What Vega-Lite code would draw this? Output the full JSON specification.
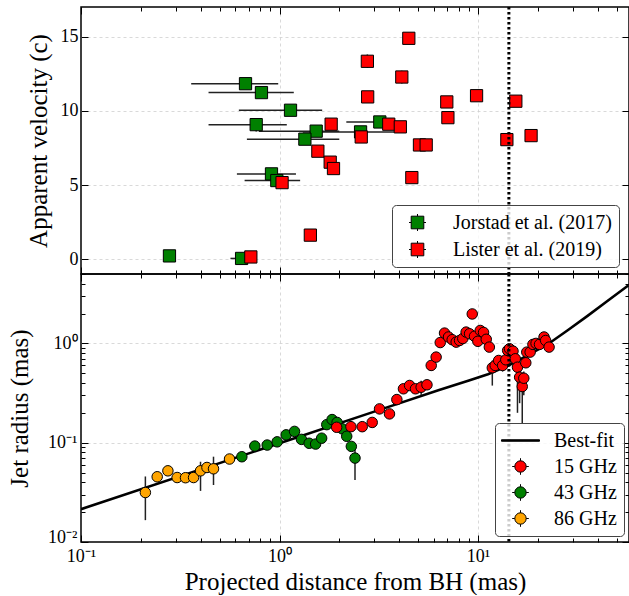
{
  "$schema": "https://vega.github.io/schema/vega-lite/v6.json",
  "background": "white",
  "padding": {"left": 6, "top": 4, "right": 0, "bottom": 0},
  "config": {
    "font": "Liberation Serif",
    "view": {"stroke": "black", "strokeWidth": 1.5},
    "axis": {
      "domain": false,
      "tickColor": "black",
      "tickWidth": 1,
      "labelFont": "Liberation Serif",
      "labelFontSize": 18,
      "labelColor": "black",
      "labelFlush": false,
      "labelOverlap": false,
      "titleFont": "Liberation Serif",
      "titleFontSize": 25,
      "titleFontWeight": "normal",
      "titleColor": "black",
      "gridColor": "#cfcfcf",
      "gridDash": [3, 3],
      "gridWidth": 0.8
    },
    "legend": {
      "labelFont": "Liberation Serif",
      "labelFontSize": 20,
      "labelColor": "black",
      "strokeColor": "#444444",
      "fillColor": "rgba(255,255,255,0.8)",
      "cornerRadius": 4,
      "padding": 7,
      "symbolSize": 400,
      "symbolStrokeColor": "black",
      "symbolStrokeWidth": 1,
      "symbolOpacity": 1,
      "symbolOffset": 8
    }
  },
  "datasets": {
    "vel": [
      {"series": "Jorstad et al. (2017)", "x": 0.674, "xlo": 0.359, "xhi": 0.985, "v": 11.83, "vlo": 11.6, "vhi": 12.06},
      {"series": "Jorstad et al. (2017)", "x": 0.811, "xlo": 0.439, "xhi": 1.18, "v": 11.23, "vlo": 11.23, "vhi": 11.23},
      {"series": "Jorstad et al. (2017)", "x": 1.136, "xlo": 0.624, "xhi": 1.64, "v": 10.04, "vlo": 10.04, "vhi": 10.04},
      {"series": "Jorstad et al. (2017)", "x": 0.763, "xlo": 0.439, "xhi": 1.088, "v": 9.07, "vlo": 8.6, "vhi": 9.5},
      {"series": "Jorstad et al. (2017)", "x": 1.53, "xlo": 0.787, "xhi": 2.0, "v": 8.63, "vlo": 8.63, "vhi": 8.63},
      {"series": "Jorstad et al. (2017)", "x": 1.342, "xlo": 0.685, "xhi": 2.0, "v": 8.09, "vlo": 8.09, "vhi": 8.09},
      {"series": "Jorstad et al. (2017)", "x": 2.56, "xlo": 1.31, "xhi": 3.8, "v": 8.58, "vlo": 8.58, "vhi": 8.58},
      {"series": "Jorstad et al. (2017)", "x": 3.2, "xlo": 2.17, "xhi": 3.8, "v": 9.25, "vlo": 9.25, "vhi": 9.25},
      {"series": "Jorstad et al. (2017)", "x": 0.911, "xlo": 0.61, "xhi": 1.21, "v": 5.75, "vlo": 5.75, "vhi": 5.75},
      {"series": "Jorstad et al. (2017)", "x": 0.969, "xlo": 0.667, "xhi": 1.27, "v": 5.3, "vlo": 5.3, "vhi": 5.3},
      {"series": "Jorstad et al. (2017)", "x": 0.279, "xlo": 0.27, "xhi": 0.29, "v": 0.22, "vlo": 0.22, "vhi": 0.22},
      {"series": "Jorstad et al. (2017)", "x": 0.644, "xlo": 0.566, "xhi": 0.72, "v": 0.05, "vlo": 0.05, "vhi": 0.05},
      {"series": "Lister et al. (2019)", "x": 4.48, "xlo": 4.48, "xhi": 4.48, "v": 14.89, "vlo": 14.7, "vhi": 15.1},
      {"series": "Lister et al. (2019)", "x": 2.77, "xlo": 2.77, "xhi": 2.77, "v": 13.34, "vlo": 12.9, "vhi": 13.8},
      {"series": "Lister et al. (2019)", "x": 4.13, "xlo": 4.13, "xhi": 4.13, "v": 12.28, "vlo": 11.85, "vhi": 12.7},
      {"series": "Lister et al. (2019)", "x": 2.78, "xlo": 2.78, "xhi": 2.78, "v": 10.94, "vlo": 10.75, "vhi": 11.15},
      {"series": "Lister et al. (2019)", "x": 1.82, "xlo": 1.82, "xhi": 1.82, "v": 9.1, "vlo": 8.9, "vhi": 9.3},
      {"series": "Lister et al. (2019)", "x": 3.55, "xlo": 3.55, "xhi": 3.55, "v": 9.1, "vlo": 8.9, "vhi": 9.3},
      {"series": "Lister et al. (2019)", "x": 4.06, "xlo": 4.06, "xhi": 4.06, "v": 8.92, "vlo": 8.7, "vhi": 9.15},
      {"series": "Lister et al. (2019)", "x": 2.58, "xlo": 2.58, "xhi": 2.58, "v": 8.24, "vlo": 8.05, "vhi": 8.45},
      {"series": "Lister et al. (2019)", "x": 1.56, "xlo": 1.56, "xhi": 1.56, "v": 7.28, "vlo": 7.1, "vhi": 7.45},
      {"series": "Lister et al. (2019)", "x": 1.8, "xlo": 1.8, "xhi": 1.8, "v": 6.54, "vlo": 6.35, "vhi": 6.7},
      {"series": "Lister et al. (2019)", "x": 1.87, "xlo": 1.87, "xhi": 1.87, "v": 6.11, "vlo": 5.95, "vhi": 6.3},
      {"series": "Lister et al. (2019)", "x": 1.03, "xlo": 1.03, "xhi": 1.03, "v": 5.16, "vlo": 5.0, "vhi": 5.35},
      {"series": "Lister et al. (2019)", "x": 4.64, "xlo": 4.64, "xhi": 4.64, "v": 5.5, "vlo": 5.3, "vhi": 5.7},
      {"series": "Lister et al. (2019)", "x": 5.07, "xlo": 5.07, "xhi": 5.07, "v": 7.7, "vlo": 7.5, "vhi": 7.9},
      {"series": "Lister et al. (2019)", "x": 5.48, "xlo": 5.48, "xhi": 5.48, "v": 7.7, "vlo": 7.5, "vhi": 7.9},
      {"series": "Lister et al. (2019)", "x": 1.43, "xlo": 1.43, "xhi": 1.43, "v": 1.62, "vlo": 1.45, "vhi": 1.8},
      {"series": "Lister et al. (2019)", "x": 0.717, "xlo": 0.717, "xhi": 0.717, "v": 0.15, "vlo": 0.0, "vhi": 0.3},
      {"series": "Lister et al. (2019)", "x": 6.96, "xlo": 6.96, "xhi": 6.96, "v": 10.6, "vlo": 10.4, "vhi": 10.8},
      {"series": "Lister et al. (2019)", "x": 9.83, "xlo": 9.83, "xhi": 9.83, "v": 11.02, "vlo": 10.85, "vhi": 11.2},
      {"series": "Lister et al. (2019)", "x": 15.5, "xlo": 15.5, "xhi": 15.5, "v": 10.65, "vlo": 10.45, "vhi": 10.85},
      {"series": "Lister et al. (2019)", "x": 7.05, "xlo": 7.05, "xhi": 7.05, "v": 9.54, "vlo": 9.35, "vhi": 9.75},
      {"series": "Lister et al. (2019)", "x": 13.97, "xlo": 13.97, "xhi": 13.97, "v": 8.06, "vlo": 7.85, "vhi": 8.25},
      {"series": "Lister et al. (2019)", "x": 18.5, "xlo": 18.5, "xhi": 18.5, "v": 8.33, "vlo": 8.0, "vhi": 8.65}
    ],
    "rad": [
      {"series": "86 GHz", "x": 0.211, "y": 0.0315, "ylo": 0.0166, "yhi": 0.0457},
      {"series": "86 GHz", "x": 0.242, "y": 0.0454, "ylo": 0.0454, "yhi": 0.0454},
      {"series": "86 GHz", "x": 0.274, "y": 0.0521, "ylo": 0.0521, "yhi": 0.0521},
      {"series": "86 GHz", "x": 0.305, "y": 0.0446, "ylo": 0.0446, "yhi": 0.0446},
      {"series": "86 GHz", "x": 0.336, "y": 0.0444, "ylo": 0.04, "yhi": 0.049},
      {"series": "86 GHz", "x": 0.369, "y": 0.0446, "ylo": 0.0446, "yhi": 0.0446},
      {"series": "86 GHz", "x": 0.4, "y": 0.0521, "ylo": 0.0327, "yhi": 0.0643},
      {"series": "86 GHz", "x": 0.431, "y": 0.0563, "ylo": 0.0563, "yhi": 0.0563},
      {"series": "86 GHz", "x": 0.465, "y": 0.0546, "ylo": 0.0375, "yhi": 0.0723},
      {"series": "86 GHz", "x": 0.56, "y": 0.0685, "ylo": 0.0685, "yhi": 0.0685},
      {"series": "43 GHz", "x": 0.646, "y": 0.0722, "ylo": 0.0722, "yhi": 0.0722},
      {"series": "43 GHz", "x": 0.751, "y": 0.0925, "ylo": 0.0925, "yhi": 0.0925},
      {"series": "43 GHz", "x": 0.867, "y": 0.0947, "ylo": 0.0947, "yhi": 0.0947},
      {"series": "43 GHz", "x": 0.973, "y": 0.102, "ylo": 0.102, "yhi": 0.102},
      {"series": "43 GHz", "x": 1.08, "y": 0.12, "ylo": 0.12, "yhi": 0.12},
      {"series": "43 GHz", "x": 1.19, "y": 0.13, "ylo": 0.13, "yhi": 0.13},
      {"series": "43 GHz", "x": 1.29, "y": 0.108, "ylo": 0.108, "yhi": 0.108},
      {"series": "43 GHz", "x": 1.41, "y": 0.0987, "ylo": 0.0987, "yhi": 0.0987},
      {"series": "43 GHz", "x": 1.52, "y": 0.0969, "ylo": 0.0969, "yhi": 0.0969},
      {"series": "43 GHz", "x": 1.63, "y": 0.111, "ylo": 0.111, "yhi": 0.111},
      {"series": "43 GHz", "x": 1.73, "y": 0.152, "ylo": 0.152, "yhi": 0.152},
      {"series": "43 GHz", "x": 1.84, "y": 0.171, "ylo": 0.171, "yhi": 0.171},
      {"series": "43 GHz", "x": 1.95, "y": 0.16, "ylo": 0.16, "yhi": 0.16},
      {"series": "43 GHz", "x": 2.07, "y": 0.138, "ylo": 0.138, "yhi": 0.138},
      {"series": "43 GHz", "x": 2.18, "y": 0.116, "ylo": 0.116, "yhi": 0.116},
      {"series": "43 GHz", "x": 2.3, "y": 0.0918, "ylo": 0.0918, "yhi": 0.0918},
      {"series": "43 GHz", "x": 2.4, "y": 0.07, "ylo": 0.042, "yhi": 0.085},
      {"series": "15 GHz", "x": 1.94, "y": 0.143, "ylo": 0.143, "yhi": 0.143},
      {"series": "15 GHz", "x": 2.29, "y": 0.145, "ylo": 0.145, "yhi": 0.145},
      {"series": "15 GHz", "x": 2.61, "y": 0.145, "ylo": 0.145, "yhi": 0.145},
      {"series": "15 GHz", "x": 2.93, "y": 0.16, "ylo": 0.16, "yhi": 0.16},
      {"series": "15 GHz", "x": 3.19, "y": 0.219, "ylo": 0.2, "yhi": 0.24},
      {"series": "15 GHz", "x": 3.58, "y": 0.195, "ylo": 0.195, "yhi": 0.195},
      {"series": "15 GHz", "x": 3.9, "y": 0.272, "ylo": 0.272, "yhi": 0.272},
      {"series": "15 GHz", "x": 4.21, "y": 0.349, "ylo": 0.349, "yhi": 0.349},
      {"series": "15 GHz", "x": 4.52, "y": 0.377, "ylo": 0.377, "yhi": 0.377},
      {"series": "15 GHz", "x": 4.84, "y": 0.349, "ylo": 0.349, "yhi": 0.349},
      {"series": "15 GHz", "x": 5.17, "y": 0.362, "ylo": 0.3, "yhi": 0.42},
      {"series": "15 GHz", "x": 5.53, "y": 0.383, "ylo": 0.383, "yhi": 0.383},
      {"series": "15 GHz", "x": 5.81, "y": 0.6, "ylo": 0.53, "yhi": 0.67},
      {"series": "15 GHz", "x": 6.15, "y": 0.728, "ylo": 0.728, "yhi": 0.728},
      {"series": "15 GHz", "x": 6.45, "y": 1.02, "ylo": 1.02, "yhi": 1.02},
      {"series": "15 GHz", "x": 6.78, "y": 1.27, "ylo": 1.27, "yhi": 1.27},
      {"series": "15 GHz", "x": 7.1, "y": 1.16, "ylo": 1.16, "yhi": 1.16},
      {"series": "15 GHz", "x": 7.41, "y": 1.09, "ylo": 1.09, "yhi": 1.09},
      {"series": "15 GHz", "x": 7.76, "y": 1.03, "ylo": 1.03, "yhi": 1.03},
      {"series": "15 GHz", "x": 8.07, "y": 1.07, "ylo": 1.07, "yhi": 1.07},
      {"series": "15 GHz", "x": 8.38, "y": 1.12, "ylo": 1.12, "yhi": 1.12},
      {"series": "15 GHz", "x": 8.71, "y": 1.3, "ylo": 1.3, "yhi": 1.3},
      {"series": "15 GHz", "x": 9.06, "y": 1.25, "ylo": 1.25, "yhi": 1.25},
      {"series": "15 GHz", "x": 9.35, "y": 1.98, "ylo": 1.98, "yhi": 1.98},
      {"series": "15 GHz", "x": 9.6, "y": 1.18, "ylo": 1.18, "yhi": 1.18},
      {"series": "15 GHz", "x": 9.98, "y": 1.05, "ylo": 0.93, "yhi": 1.15},
      {"series": "15 GHz", "x": 10.26, "y": 1.35, "ylo": 1.35, "yhi": 1.35},
      {"series": "15 GHz", "x": 10.66, "y": 1.29, "ylo": 1.29, "yhi": 1.29},
      {"series": "15 GHz", "x": 11.0, "y": 1.1, "ylo": 1.1, "yhi": 1.1},
      {"series": "15 GHz", "x": 11.4, "y": 0.918, "ylo": 0.82, "yhi": 1.0},
      {"series": "15 GHz", "x": 11.8, "y": 0.568, "ylo": 0.376, "yhi": 0.67},
      {"series": "15 GHz", "x": 12.2, "y": 0.6, "ylo": 0.55, "yhi": 0.65},
      {"series": "15 GHz", "x": 12.7, "y": 0.673, "ylo": 0.6, "yhi": 0.74},
      {"series": "15 GHz", "x": 13.3, "y": 0.6, "ylo": 0.52, "yhi": 0.68},
      {"series": "15 GHz", "x": 13.8, "y": 0.684, "ylo": 0.684, "yhi": 0.684},
      {"series": "15 GHz", "x": 14.1, "y": 0.85, "ylo": 0.85, "yhi": 0.85},
      {"series": "15 GHz", "x": 14.4, "y": 0.884, "ylo": 0.884, "yhi": 0.884},
      {"series": "15 GHz", "x": 15.0, "y": 0.836, "ylo": 0.836, "yhi": 0.836},
      {"series": "15 GHz", "x": 15.4, "y": 0.7, "ylo": 0.6, "yhi": 0.8},
      {"series": "15 GHz", "x": 15.8, "y": 0.576, "ylo": 0.2, "yhi": 0.7},
      {"series": "15 GHz", "x": 16.2, "y": 0.457, "ylo": 0.25, "yhi": 0.55},
      {"series": "15 GHz", "x": 16.7, "y": 0.368, "ylo": 0.155, "yhi": 0.45},
      {"series": "15 GHz", "x": 17.0, "y": 0.446, "ylo": 0.3, "yhi": 0.52},
      {"series": "15 GHz", "x": 17.4, "y": 0.638, "ylo": 0.638, "yhi": 0.638},
      {"series": "15 GHz", "x": 17.6, "y": 0.817, "ylo": 0.817, "yhi": 0.817},
      {"series": "15 GHz", "x": 18.3, "y": 0.817, "ylo": 0.817, "yhi": 0.817},
      {"series": "15 GHz", "x": 18.9, "y": 0.977, "ylo": 0.977, "yhi": 0.977},
      {"series": "15 GHz", "x": 19.6, "y": 1.0, "ylo": 1.0, "yhi": 1.0},
      {"series": "15 GHz", "x": 20.4, "y": 0.977, "ylo": 0.977, "yhi": 0.977},
      {"series": "15 GHz", "x": 21.5, "y": 1.16, "ylo": 1.16, "yhi": 1.16},
      {"series": "15 GHz", "x": 21.9, "y": 1.07, "ylo": 1.07, "yhi": 1.07},
      {"series": "15 GHz", "x": 22.8, "y": 0.918, "ylo": 0.85, "yhi": 0.98}
    ],
    "fit": [
      {"x": 0.1, "y": 0.0214}, {"x": 1.0, "y": 0.0989}, {"x": 3.162, "y": 0.2128},
      {"x": 6.31, "y": 0.3373}, {"x": 9.0, "y": 0.4227}, {"x": 11.22, "y": 0.4898},
      {"x": 14.13, "y": 0.5957}, {"x": 17.78, "y": 0.7586}, {"x": 22.65, "y": 0.9931},
      {"x": 28.18, "y": 1.349}, {"x": 35.48, "y": 1.884}, {"x": 44.67, "y": 2.661},
      {"x": 57.3, "y": 3.855}
    ],
    "bondi": [{"xd": 14.3}]
  },
  "resolve": {"scale": {"fill": "independent"}, "legend": {"fill": "independent"}},
  "vconcat": [
    {
      "width": 548,
      "height": 267,
      "resolve": {"axis": {"x": "independent", "y": "independent"}},
      "layer": [
        {
          "data": {"name": "vel"},
          "mark": {"type": "rule", "color": "#222222", "strokeWidth": 1.5},
          "encoding": {
            "x": {"field": "xlo", "type": "quantitative",
              "scale": {"type": "log", "domain": [0.1, 57.6], "nice": false},
              "axis": {"orient": "bottom", "title": null, "labels": false,
                "values": [0.1,0.2,0.3,0.4,0.5,0.6,0.7,0.8,0.9,1,2,3,4,5,6,7,8,9,10,20,30,40,50],
                "tickSize": {"condition": {"test": "datum.value==0.1||datum.value==1||datum.value==10", "value": -7}, "value": -4},
                "grid": true,
                "gridOpacity": {"condition": {"test": "datum.value==1||datum.value==10", "value": 1}, "value": 0}}},
            "x2": {"field": "xhi"},
            "y": {"field": "v", "type": "quantitative",
              "scale": {"domain": [-1, 17], "nice": false, "zero": false},
              "axis": {"orient": "left", "title": "Apparent velocity (c)", "values": [0, 5, 10, 15],
                "tickSize": -7, "labelPadding": 10, "titleX": -30, "grid": true}}
          }
        },
        {
          "data": {"name": "vel"},
          "mark": {"type": "rule", "color": "#222222", "strokeWidth": 1.5},
          "encoding": {
            "x": {"field": "x", "type": "quantitative", "axis": null},
            "y": {"field": "vlo", "type": "quantitative", "axis": null},
            "y2": {"field": "vhi"}
          }
        },
        {
          "data": {"name": "vel"},
          "mark": {"type": "point", "shape": "square", "filled": true, "size": 150, "stroke": "black", "strokeWidth": 1, "opacity": 1},
          "encoding": {
            "x": {"field": "x", "type": "quantitative",
              "axis": {"orient": "top", "title": null, "labels": false, "grid": false,
                "values": [0.1,0.2,0.3,0.4,0.5,0.6,0.7,0.8,0.9,1,2,3,4,5,6,7,8,9,10,20,30,40,50],
                "tickSize": {"condition": {"test": "datum.value==0.1||datum.value==1||datum.value==10", "value": -7}, "value": -4}}},
            "y": {"field": "v", "type": "quantitative",
              "axis": {"orient": "right", "title": null, "labels": false, "grid": false,
                "values": [0, 5, 10, 15], "tickSize": -7}},
            "fill": {"field": "series", "type": "nominal",
              "scale": {"domain": ["Jorstad et al. (2017)", "Lister et al. (2019)"], "range": ["#008000", "#ff0000"]},
              "legend": {"title": null, "orient": "none", "legendX": 311, "legendY": 198, "rowPadding": 6, "labelOffset": 25,
                "encode": {"symbols": {"update": {"shape": {"value": "M-0.85,0H-0.63M0.63,0H0.85M0,-0.85V-0.63M0,0.63V0.85M-0.63,-0.63H0.63V0.63H-0.63Z"}}}}}}
          }
        },
        {
          "data": {"name": "bondi"},
          "mark": {"type": "rule", "color": "black", "strokeWidth": 3, "strokeDash": [2.5, 2.5]},
          "encoding": {"x": {"field": "xd", "type": "quantitative", "axis": null}}
        }
      ]
    },
    {
      "width": 548,
      "height": 268,
      "resolve": {"axis": {"x": "independent", "y": "independent"}},
      "layer": [
        {
          "data": {"name": "fit"},
          "mark": {"type": "line", "color": "black", "strokeWidth": 2.6, "clip": true},
          "encoding": {
            "x": {"field": "x", "type": "quantitative",
              "scale": {"type": "log", "domain": [0.1, 57.6], "nice": false},
              "axis": {"orient": "bottom", "title": "Projected distance from BH (mas)",
                "values": [0.1,0.2,0.3,0.4,0.5,0.6,0.7,0.8,0.9,1,2,3,4,5,6,7,8,9,10,20,30,40,50],
                "labelExpr": "datum.value==0.1?'10⁻¹':datum.value==1?'10⁰':datum.value==10?'10¹':''",
                "tickSize": {"condition": {"test": "datum.value==0.1||datum.value==1||datum.value==10", "value": -7}, "value": -4},
                "labelPadding": 12, "titlePadding": 1,
                "grid": true,
                "gridOpacity": {"condition": {"test": "datum.value==1||datum.value==10", "value": 1}, "value": 0}}},
            "y": {"field": "y", "type": "quantitative",
              "scale": {"type": "log", "domain": [0.01, 5.0], "nice": false},
              "axis": {"orient": "left", "title": "Jet radius (mas)",
                "values": [0.01,0.02,0.03,0.04,0.05,0.06,0.07,0.08,0.09,0.1,0.2,0.3,0.4,0.5,0.6,0.7,0.8,0.9,1,2,3,4,5],
                "labelExpr": "datum.value==0.01?'10⁻²':datum.value==0.1?'10⁻¹':datum.value==1?'10⁰':''",
                "labelBaseline": {"condition": {"test": "datum.value==0.01", "value": "alphabetic"}, "value": "middle"},
                "tickSize": {"condition": {"test": "datum.value==0.01||datum.value==0.1||datum.value==1", "value": -7}, "value": -4},
                "labelPadding": 11, "titleX": -49,
                "grid": true,
                "gridOpacity": {"condition": {"test": "datum.value==0.1||datum.value==1", "value": 1}, "value": 0}}}
          }
        },
        {
          "data": {"name": "rad"},
          "mark": {"type": "rule", "color": "#222222", "strokeWidth": 1.5},
          "encoding": {
            "x": {"field": "x", "type": "quantitative", "axis": null},
            "y": {"field": "ylo", "type": "quantitative", "axis": null},
            "y2": {"field": "yhi"}
          }
        },
        {
          "data": {"name": "rad"},
          "mark": {"type": "point", "shape": "circle", "filled": true, "size": 110, "stroke": "black", "strokeWidth": 1, "opacity": 1},
          "encoding": {
            "x": {"field": "x", "type": "quantitative",
              "axis": {"orient": "top", "title": null, "labels": false, "grid": false,
                "values": [0.1,0.2,0.3,0.4,0.5,0.6,0.7,0.8,0.9,1,2,3,4,5,6,7,8,9,10,20,30,40,50],
                "tickSize": {"condition": {"test": "datum.value==0.1||datum.value==1||datum.value==10", "value": -7}, "value": -4}}},
            "y": {"field": "y", "type": "quantitative",
              "axis": {"orient": "right", "title": null, "labels": false, "grid": false,
                "values": [0.01,0.02,0.03,0.04,0.05,0.06,0.07,0.08,0.09,0.1,0.2,0.3,0.4,0.5,0.6,0.7,0.8,0.9,1,2,3,4,5],
                "tickSize": {"condition": {"test": "datum.value==0.01||datum.value==0.1||datum.value==1", "value": -7}, "value": -4}}},
            "fill": {"field": "series", "type": "nominal",
              "scale": {"domain": ["Best-fit", "15 GHz", "43 GHz", "86 GHz"], "range": ["black", "#ff0000", "#008000", "#ffa500"]},
              "legend": {"title": null, "orient": "none", "legendX": 414, "legendY": 149, "rowPadding": 5, "labelOffset": 23,
                "encode": {"symbols": {"update": {"shape": {"signal": "datum.value==='Best-fit' ? 'M-1.9,-0.075H1.9V0.075H-1.9Z' : 'M-0.83,0H-0.57M0.57,0H0.83M0,-0.83V-0.57M0,0.57V0.83M0.57,0A0.57,0.57,0,1,1,-0.57,0A0.57,0.57,0,1,1,0.57,0Z'"}}}}}}
          }
        },
        {
          "data": {"name": "bondi"},
          "mark": {"type": "rule", "color": "black", "strokeWidth": 3, "strokeDash": [2.5, 2.5]},
          "encoding": {"x": {"field": "xd", "type": "quantitative", "axis": null}}
        }
      ]
    }
  ],
  "spacing": 0,
  "bounds": "flush"
}
